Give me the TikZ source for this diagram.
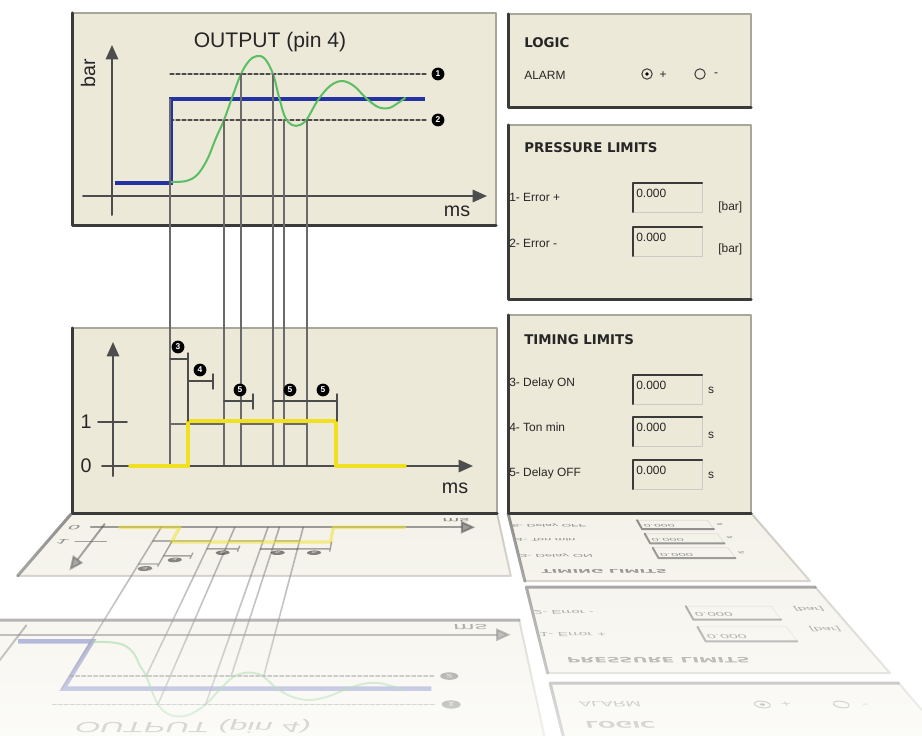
\documentclass[tikz,border=0pt]{standalone}
\usepackage{fontspec}
\setmainfont{Liberation Sans}
\newfontfamily\panelfont{DejaVu Sans}
\usetikzlibrary{arrows.meta, fadings}
\definecolor{panelbg}{HTML}{ECE9D8}
\definecolor{darkedge}{HTML}{3A3A3A}
\definecolor{lightedge}{HTML}{A9A79C}
\definecolor{axisgray}{HTML}{4D4D4D}
\definecolor{linkgray}{HTML}{6A6A6A}
\definecolor{setblue}{HTML}{2532A6}
\definecolor{respgreen}{HTML}{5BBE62}
\definecolor{sigyellow}{HTML}{F0E020}

\tikzfading[name=fadedown, top color=transparent!100, bottom color=transparent!28]

% coordenadas en px; en modo espejo se proyectan sobre el "suelo"
\newif\ifmirror
\def\ppparse#1,#2\ppend{%
  \ifmirror
    \pgfmathsetmacro\ppdist{513-(#2)}%
    \pgfmathsetmacro\ppq{1-0.000754*\ppdist}%
    \pgfmathsetmacro\ppx{411+((#1)-411)/\ppq}%
    \pgfmathsetmacro\ppy{513+0.293*\ppdist/\ppq}%
    \pgfmathsetmacro\pptmp{1/\ppq}\global\let\ppma\pptmp
    \pgfmathsetmacro\pptmp{((#1)-411)*0.000754/(\ppq*\ppq)}\global\let\ppmc\pptmp
    \pgfmathsetmacro\pptmp{-0.293/(\ppq*\ppq)}\global\let\ppmd\pptmp
  \else
    \pgfmathsetmacro\ppx{#1}%
    \pgfmathsetmacro\ppy{#2}%
    \gdef\ppma{1}\gdef\ppmc{0}\gdef\ppmd{1}%
  \fi
  \pgfpointxy{\ppx}{\ppy}}
\tikzdeclarecoordinatesystem{p}{\ppparse#1\ppend}

\tikzset{
  lbl/.style={cm={\ppma,0,\ppmc,\ppmd,(0,0)}, inner sep=0pt, text=black!85},
  chartaxis/.style={axisgray, line width=0.5mm, -{Triangle[length=3.6mm, width=3.1mm]}},
  link/.style={linkgray, line width=0.4mm},
  bandline/.style={black!70, line width=0.3mm, dash pattern=on 1mm off 0.5mm},
  dim/.style={black!70, line width=0.35mm},
  num/.style={lbl, circle, fill=black, text=white, minimum size=3.2mm, font=\fontsize{6}{6}\selectfont\bfseries},
  radio/.style={lbl, circle, draw=darkedge, line width=0.25mm, minimum size=2.6mm},
  titlefont/.style={font=\fontsize{15}{17}\selectfont},
  unitfont/.style={font=\fontsize{14}{16}\selectfont},
  headfont/.style={font=\panelfont\bfseries\fontsize{9.5}{11}\selectfont},
  smallfont/.style={font=\fontsize{8.5}{10}\selectfont},
}

\newcommand{\panelbox}[4]{%
  \fill[panelbg] (p cs:#1,#2) -- (p cs:#3,#2) -- (p cs:#3,#4) -- (p cs:#1,#4) -- cycle;
  \draw[lightedge, line width=0.5mm] (p cs:#1,#2) -- (p cs:#3,#2) -- (p cs:#3,#4);
  \draw[darkedge, line width=0.75mm] (p cs:#1,#2) -- (p cs:#1,#4) -- (p cs:#3,#4);
}
\newcommand{\valuebox}[3]{%
  \draw[lightedge!60, line width=0.2mm] (p cs:#1+69,#2) -- (p cs:#1+69,#2+29) -- (p cs:#1,#2+29);
  \draw[darkedge, line width=0.5mm] (p cs:#1,#2+29) -- (p cs:#1,#2) -- (p cs:#1+69,#2);
  \path (p cs:#1+3,#2+10) node[lbl, smallfont, anchor=west] (#3) {0.000};
}

\newcommand{\drawall}{%
  % Paneles
  \panelbox{72}{13}{496}{226}
  \panelbox{72}{328}{497}{513}
  \panelbox{508}{14}{751}{108}
  \panelbox{508}{125}{751}{300}
  \panelbox{508}{315}{751}{513}

  % OUTPUT (pin 4)
  \draw[chartaxis] (p cs:112,215) -- (p cs:112,45);
  \draw[chartaxis] (p cs:83,196) -- (p cs:487,196);
  \draw[bandline] (p cs:170,74) -- (p cs:427,74);
  \draw[bandline] (p cs:170,120) -- (p cs:427,120);
  \draw[setblue, line width=1.1mm, line join=miter, line cap=butt]
    (p cs:115,183) -- (p cs:171,183) -- (p cs:171,99) -- (p cs:425,99);
  \draw[respgreen, line width=0.5mm] plot[smooth, tension=0.6] coordinates {
    (p cs:171,182) (p cs:186,181) (p cs:197,175) (p cs:207,160) (p cs:216,138)
    (p cs:224,120) (p cs:233,95) (p cs:241,74) (p cs:249,61) (p cs:257,56)
    (p cs:265,59) (p cs:273,74) (p cs:279,97) (p cs:285,117) (p cs:292,125)
    (p cs:300,125) (p cs:307,119) (p cs:318,100) (p cs:330,86) (p cs:342,81)
    (p cs:354,86) (p cs:366,98) (p cs:378,107) (p cs:389,108) (p cs:398,103)
    (p cs:405,98)};
  \path (p cs:270,42) node[lbl, titlefont] (title) {OUTPUT (pin 4)};
  \ifmirror\else
    \path (p cs:88,73) node[lbl, unitfont, rotate=90] (ybar) {bar};
  \fi
  \path (p cs:457,211) node[lbl, unitfont] (xms) {ms};
  \path (p cs:438,74) node[num] (lvone) {1};
  \path (p cs:438,120) node[num] (lvtwo) {2};

  % Lineas de enlace
  \foreach \xa/\ya in {170/99, 224/120, 241/74, 273/74, 284/120, 307/120}
    \draw[link] (p cs:\xa,\ya) -- (p cs:\xa,466);

  % Salida 0/1
  \draw[chartaxis] (p cs:113,476) -- (p cs:113,342);
  \draw[chartaxis] (p cs:102,466) -- (p cs:473,466);
  \draw[axisgray, line width=0.4mm] (p cs:98,422) -- (p cs:127,422);
  \draw[link, line width=0.3mm] (p cs:170,424) -- (p cs:224,424)
    (p cs:241,424) -- (p cs:273,424) (p cs:284,424) -- (p cs:307,424);
  \draw[sigyellow, line width=0.8mm] (p cs:130,466) -- (p cs:188,466) -- (p cs:188,421)
    -- (p cs:336,421) -- (p cs:336,466) -- (p cs:405,466);
  \draw[dim] (p cs:170,359) -- (p cs:188,359) (p cs:188,353) -- (p cs:188,421);
  \draw[dim] (p cs:188,381) -- (p cs:213,381) (p cs:213,374) -- (p cs:213,389);
  \draw[dim] (p cs:224,401) -- (p cs:253,401) (p cs:253,394) -- (p cs:253,409);
  \draw[dim] (p cs:273,401) -- (p cs:307,401);
  \draw[dim] (p cs:307,401) -- (p cs:337,401) (p cs:337,394) -- (p cs:337,421);
  \path (p cs:178,347) node[num] (dthree) {3};
  \path (p cs:200,370) node[num] (dfour) {4};
  \path (p cs:240,390) node[num] (dfivea) {5};
  \path (p cs:290,390) node[num] (dfiveb) {5};
  \path (p cs:323,390) node[num] (dfivec) {5};
  \path (p cs:86,422) node[lbl, unitfont] (yone) {1};
  \path (p cs:86,466) node[lbl, unitfont] (yzero) {0};
  \path (p cs:455,488) node[lbl, unitfont] (xmsb) {ms};

  % LOGIC
  \path (p cs:524,43) node[lbl, headfont, anchor=west] (logic) {LOGIC};
  \path (p cs:524,75) node[lbl, smallfont, anchor=west] (alarm) {ALARM};
  \path (p cs:647,74) node[radio] (radioa) {};
  \path (p cs:647,74) node[lbl, circle, fill=black, minimum size=0.9mm] (dota) {};
  \path (p cs:663,75) node[lbl, smallfont] (plus) {+};
  \path (p cs:700,74) node[radio] (radiob) {};
  \path (p cs:716,75) node[lbl, smallfont] (minus) {-};

  % PRESSURE LIMITS
  \path (p cs:524,148) node[lbl, headfont, anchor=west] (preshead) {PRESSURE LIMITS};
  \path (p cs:509,197) node[lbl, smallfont, anchor=west] (errp) {1- Error +};
  \valuebox{633}{183}{errpbox}
  \path (p cs:718,207) node[lbl, smallfont, anchor=west] (errpu) {[bar]};
  \path (p cs:509,243) node[lbl, smallfont, anchor=west] (errm) {2- Error -};
  \valuebox{633}{227}{errmbox}
  \path (p cs:718,249) node[lbl, smallfont, anchor=west] (errmu) {[bar]};

  % TIMING LIMITS
  \path (p cs:524,340) node[lbl, headfont, anchor=west] (timhead) {TIMING LIMITS};
  \path (p cs:509,383) node[lbl, smallfont, anchor=west] (don) {3- Delay ON};
  \valuebox{633}{375}{donbox}
  \path (p cs:711,390) node[lbl, smallfont] (donu) {s};
  \path (p cs:509,427) node[lbl, smallfont, anchor=west] (ton) {4- Ton min};
  \valuebox{633}{417}{tonbox}
  \path (p cs:711,435) node[lbl, smallfont] (tonu) {s};
  \path (p cs:509,473) node[lbl, smallfont, anchor=west] (doff) {5- Delay OFF};
  \valuebox{633}{460}{doffbox}
  \path (p cs:711,475) node[lbl, smallfont] (doffu) {s};
}

\begin{document}
\begin{tikzpicture}[x=0.25mm, y=-0.25mm, line cap=round, line join=round]
  \useasboundingbox (0,0) rectangle (922,736);
  \fill[white] (0,0) rectangle (922,736);

  % Reflejo
  \begin{scope}
    \clip (0,513) rectangle (922,736);
    \mirrortrue
    \begin{scope}[opacity=0.55]
      \drawall
    \end{scope}
    \mirrorfalse
    \fill[white, path fading=fadedown] (0,513) rectangle (922,736);
  \end{scope}

  % Paneles
  \drawall
\end{tikzpicture}
\end{document}
